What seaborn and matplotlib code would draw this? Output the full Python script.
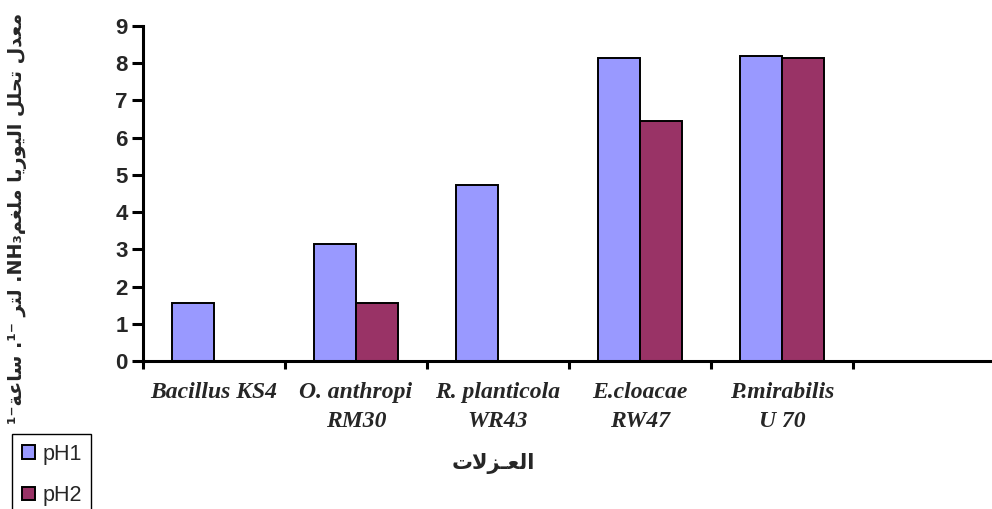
import numpy as np
import pandas as pd
import matplotlib
matplotlib.use("Agg")
import matplotlib.pyplot as plt
import seaborn as sns

# ---- data ----
isolates = ["Bacillus KS4", "O. anthropi\nRM30", "R. planticola\nWR43",
            "E.cloacae\nRW47", "P.mirabilis\nU 70"]
series = ["pH1", "pH2"]
ph1 = [1.57, 3.15, 4.73, 8.15, 8.20]
ph2 = [np.nan, 1.57, np.nan, 6.44, 8.15]
colors = ["#9999FF", "#993366"]
y_ticks = list(range(0, 10))

x_title = "العـزلات"
y_title = "معدل تحلل اليوريا ملغمNH₃. لتر ¹⁻. ساعة¹⁻"

# ---- minimal Arabic shaping (presentation forms) + visual ordering ----
FORMS = {  # isolated, final, initial, medial
    "ا": ("\uFE8D", "\uFE8E", None, None),
    "ل": ("\uFEDD", "\uFEDE", "\uFEDF", "\uFEE0"),
    "ع": ("\uFEC9", "\uFECA", "\uFECB", "\uFECC"),
    "ز": ("\uFEAF", "\uFEB0", None, None),
    "ت": ("\uFE95", "\uFE96", "\uFE97", "\uFE98"),
    "م": ("\uFEE1", "\uFEE2", "\uFEE3", "\uFEE4"),
    "د": ("\uFEA9", "\uFEAA", None, None),
    "ح": ("\uFEA1", "\uFEA2", "\uFEA3", "\uFEA4"),
    "ي": ("\uFEF1", "\uFEF2", "\uFEF3", "\uFEF4"),
    "و": ("\uFEED", "\uFEEE", None, None),
    "ر": ("\uFEAD", "\uFEAE", None, None),
    "غ": ("\uFECD", "\uFECE", "\uFECF", "\uFED0"),
    "س": ("\uFEB1", "\uFEB2", "\uFEB3", "\uFEB4"),
    "ة": ("\uFE93", "\uFE94", None, None),
}
TATWEEL = "\u0640"


def _joins_forward(c):
    return c == TATWEEL or (c in FORMS and FORMS[c][2] is not None)


def _is_joining(c):
    return c == TATWEEL or c in FORMS


def shape(text):
    out, i, n = [], 0, len(text)
    while i < n:
        c = text[i]
        prev = text[i - 1] if i > 0 else None
        cp = prev is not None and _joins_forward(prev)
        if c == "ل" and i + 1 < n and text[i + 1] == "ا":
            out.append("\uFEFC" if cp else "\uFEFB")
            i += 2
            continue
        if c not in FORMS:
            out.append(c)
            i += 1
            continue
        iso, fin, ini, med = FORMS[c]
        nxt = text[i + 1] if i + 1 < n else None
        cn = ini is not None and nxt is not None and _is_joining(nxt)
        if cp and cn:
            out.append(med)
        elif cp:
            out.append(fin)
        elif cn:
            out.append(ini)
        else:
            out.append(iso)
        i += 1
    return "".join(out)


def _is_ltr(c):
    return (c.isascii() and c.isalnum()) or c in "₃¹⁻"


def rtl(text):
    rev = shape(text)[::-1]
    res, run = [], []
    for c in rev:
        if _is_ltr(c):
            run.append(c)
        else:
            if run:
                res.extend(run[::-1])
                run = []
            res.append(c)
    if run:
        res.extend(run[::-1])
    return "".join(res)


# ---- long-form table ----
df = pd.DataFrame({
    "isolate": isolates * 2,
    "series": [series[0]] * len(isolates) + [series[1]] * len(isolates),
    "value": ph1 + ph2,
})

sns.set_style("white")
plt.rcParams["font.family"] = ["Liberation Sans", "DejaVu Sans"]

fig = plt.figure(figsize=(9.92, 5.09), dpi=100)
ax = fig.add_axes([143 / 992, 148 / 509, 852 / 992, 335 / 509])

sns.barplot(data=df, x="isolate", y="value", hue="series",
            order=isolates, hue_order=series, palette=colors,
            width=0.59, gap=0, saturation=1, errorbar=None,
            edgecolor="black", linewidth=1.4, ax=ax)

ax.set_xlim(-0.5, 5.5)
ax.set_ylim(0, 9)
ax.set_yticks(y_ticks)
ax.set_yticklabels([str(v) for v in y_ticks], fontsize=16, fontweight="bold",
                   family="Liberation Sans")
ax.set_xticks(range(len(isolates)))
ax.set_xticklabels(isolates, fontsize=17, fontweight="bold", style="italic",
                   family="Liberation Serif", linespacing=1.5)
ax.set_xticks(np.arange(-0.5, 6.0, 1.0), minor=True)
ax.tick_params(axis="x", which="major", length=0, pad=15)
ax.tick_params(axis="x", which="minor", length=6, width=2.2, direction="out",
               color="black", bottom=True)
ax.tick_params(axis="y", which="major", length=8, width=2.2, direction="out",
               color="black", pad=3, left=True)
ax.set_xlabel("")
ax.set_ylabel("")

for side in ("top", "right"):
    ax.spines[side].set_visible(False)
for side in ("left", "bottom"):
    ax.spines[side].set_linewidth(2.2)
    ax.spines[side].set_color("black")

handles, labels = ax.get_legend_handles_labels()
if ax.get_legend() is not None:
    ax.get_legend().remove()
leg = fig.legend(handles, labels, loc="upper left",
                 bbox_to_anchor=(12 / 992, 1 - 434 / 509),
                 bbox_transform=fig.transFigure, frameon=True, fancybox=False,
                 edgecolor="black", framealpha=1,
                 prop={"family": "Liberation Sans", "size": 15.5},
                 handlelength=0.6, handleheight=0.6, handletextpad=0.35,
                 borderpad=0.45, labelspacing=0.95, borderaxespad=0)
leg.get_frame().set_linewidth(1.0)

fig.text(493 / 992, 1 - 463 / 509, rtl(x_title), ha="center", va="center",
         fontsize=15, fontweight="bold", family="DejaVu Sans")
fig.text(18 / 992, 1 - 218 / 509, rtl(y_title), ha="center", va="center",
         rotation=90, fontsize=13.8, fontweight="bold", family="DejaVu Sans")

fig.savefig("out.png", dpi=100)
